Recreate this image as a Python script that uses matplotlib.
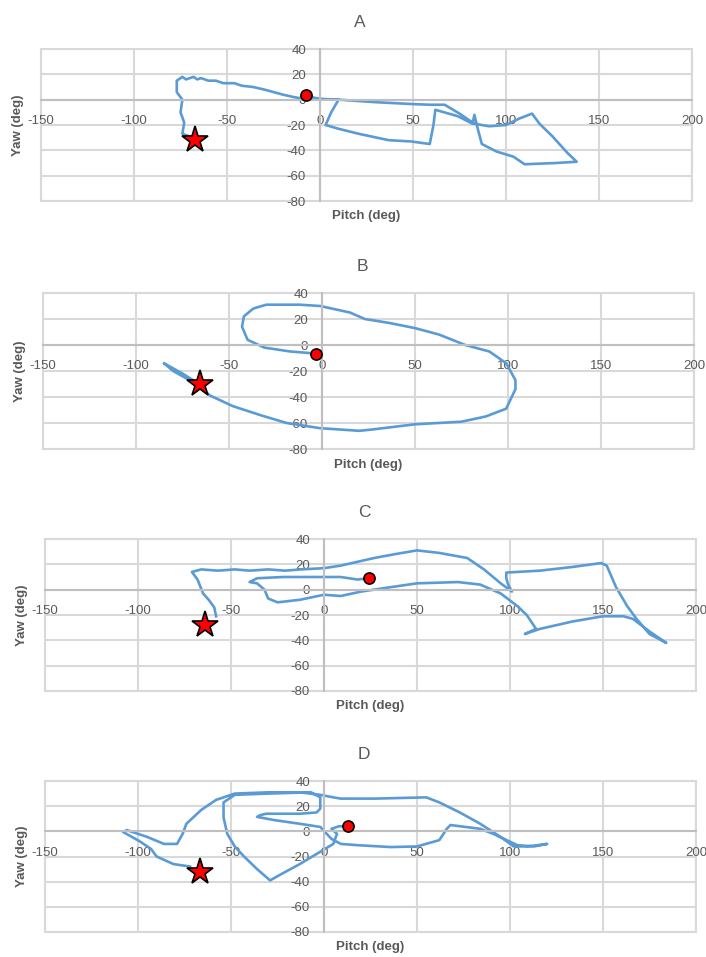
import matplotlib.pyplot as plt
from matplotlib.patches import Rectangle

plt.rcParams['font.family'] = ['Liberation Sans', 'DejaVu Sans']
plt.rcParams['axes.unicode_minus'] = False

# -----------------
# Data
# -----------------

pitch_a = [-68, -74, -73, -75, -74, -77, -77, -74, -72, -68, -66, -64, -60, -56, -52, -46, -42, -36,
           -30, -25, -20, -14, -8, 0, 5, 10, 30, 50, 59, 67, 75, 83, 91, 100, 107, 114, 118, 125, 133,
           138, 127, 110, 104, 95, 87, 85, 83, 82, 74, 62, 61, 59, 49, 37, 21, 10, 3, 6, 10, 0, -6]
yaw_a = [-30, -27, -18, -10, 0, 6, 15, 18, 16, 18, 16, 17, 15, 15, 13, 13, 11, 10,
         8, 6, 4, 2, 0.5, 0.5, 0.3, 0, -2, -3.5, -4, -4, -11, -19, -21, -20, -15, -11, -19, -29, -42,
         -49, -50, -51, -45, -41, -35, -24, -12, -19, -13, -8, -20, -35, -33, -32, -27, -23, -20, -10, 0, 0.5, 2.5]
start_a = (-67, -32)
end_a = (-7.5, 4)

pitch_b = [-66, -75, -85, -80, -70, -60, -48, -33, -19, -1, 20, 27, 50, 75, 88, 99, 104, 104,
           99, 90, 77, 63, 50, 36, 23, 15, -1, -12, -30, -37, -42, -43, -40, -31, -17, -4]
yaw_b = [-30, -22, -14, -20, -28, -39, -47, -54, -60, -64, -66, -65, -61, -59, -55, -49, -34, -27,
         -14, -5, 0, 8, 13, 17, 20, 25, 30, 31, 31, 28, 22, 14, 4, -2, -5, -6.5]
start_b = (-65.5, -30)
end_b = (-3, -6.7)

pitch_c = [-58, -59, -62, -65, -68, -71, -66, -57, -48, -40, -30, -21, -12, 0, 9, 18, 27, 38, 50,
           62, 77, 86, 95, 101, 99, 98, 98, 116, 134, 149, 152, 157, 163, 168, 175, 184,
           175, 166, 161, 150, 134, 116, 108, 114, 109, 104, 95, 84, 72, 50, 36, 20, 9, 0,
           -13, -25, -30, -32, -36, -40, -36, -22, -4, 9, 18, 24]
yaw_c = [-21, -14, -8, -3, 8, 14, 16, 15, 16, 15, 16, 15, 16, 17, 19, 22, 25, 28, 31,
         29, 25, 16, 5, -1.5, 4, 9, 13.5, 15, 18, 21, 19, 2, -13, -23, -35, -42,
         -33, -23, -21, -21, -25, -31, -35, -31, -20, -13, -3, 4, 6, 5, 2, -1.5, -5, -4,
         -8, -10, -7, 0, 5, 6, 9, 10, 10, 10, 8, 9]
start_c = (-64, -28)
end_c = (24, 9)

pitch_d = [-72, -81, -90, -93, -99, -108, -106, -95, -86, -79, -76, -74, -66, -58, -48, -30, -13, -2,
           5, 9, 27, 55, 62, 73, 84, 95, 102, 109, 115, 120, 113, 104, 91, 84, 68, 66, 62, 50, 36,
           18, 9, 4, -2, -13, -27, -36, -34, -31, -13, -4, -2, -2, -7, -30, -48, -54, -54, -52, -48,
           -43, -36, -29, -23, -13, -4, 5, 7, 4, 8, 13]
yaw_d = [-28, -26, -20, -14, -8, -0.5, 1, -4.5, -10, -10, -2, 6, 17, 25, 30, 31, 31, 29,
         27, 26, 26, 27, 23, 15, 6, -4.5, -12, -12, -11, -10, -12, -11, -2, 2, 5, 2, -7, -12, -12.5,
         -11, -10, -6, 3.5, 6, 9, 11.5, 13, 14, 14, 15, 18, 27, 31, 30, 29, 23, 11, -2, -12,
         -20, -30, -39, -34, -26, -18, -10, -2, 2, 4, 4]
start_d = (-66.5, -32.5)
end_d = (13, 4)

panels = ['A', 'B', 'C', 'D']
pitch = [pitch_a, pitch_b, pitch_c, pitch_d]
yaw = [yaw_a, yaw_b, yaw_c, yaw_d]
starts = [start_a, start_b, start_c, start_d]
ends = [end_a, end_b, end_c, end_d]

x_ticks = list(range(-150, 201, 50))
y_ticks = list(range(-80, 41, 20))

# -----------------
# Figure layout (pixel boxes of each plot area)
# -----------------

W, H = 706, 957
boxes = [(41, 49, 692, 201), (43, 293, 694, 449), (45, 539, 696, 691), (45, 781, 696, 932)]

fig = plt.figure(figsize=(W / 100, H / 100), dpi=100)
text_color = '#595959'
grid_color = '#d9d9d9'

for i, name in enumerate(panels):
    l, t, r, b = boxes[i]
    ax = fig.add_axes([l / W, 1 - b / H, (r - l) / W, (b - t) / H])
    ax.set_xlim(-150, 200)
    ax.set_ylim(-80, 40)
    ax.set_xticks(x_ticks)
    ax.set_yticks(y_ticks)
    ax.grid(True, color=grid_color, lw=1.5, zorder=0)
    ax.set_axisbelow(True)

    # Excel-style axes crossing at zero
    for side in ['top', 'right']:
        ax.spines[side].set_visible(False)
    for side in ['left', 'bottom']:
        ax.spines[side].set_position(('data', 0))
        ax.spines[side].set_color('#bfbfbf')
        ax.spines[side].set_linewidth(1.5)
    ax.add_patch(Rectangle((0, 0), 1, 1, transform=ax.transAxes, fill=False,
                           ec=grid_color, lw=1.5, clip_on=False, zorder=0))
    ax.tick_params(axis='x', length=0, pad=11, labelsize=9.5, labelcolor=text_color)
    ax.tick_params(axis='y', length=0, pad=10, labelsize=9.5, labelcolor=text_color)

    ax.plot(pitch[i], yaw[i], color='#5b9bd5', lw=1.9, zorder=2)
    ax.plot(*starts[i], marker='*', ms=20, mfc='red', mec='black', mew=1.2, zorder=3)
    ax.plot(*ends[i], marker='o', ms=8, mfc='red', mec='black', mew=1.2, zorder=3)

    ax.set_title(name, fontsize=12.5, color=text_color, pad=16, x=0.49)
    ax.text(0.5, -0.1, 'Pitch (deg)', transform=ax.transAxes, ha='center', va='center',
            fontsize=9.5, fontweight='bold', color=text_color)
    ax.text(-0.035, 0.5, 'Yaw (deg)', transform=ax.transAxes, ha='center', va='center',
            rotation=90, fontsize=9.5, fontweight='bold', color=text_color)

plt.savefig('out.png', dpi=100)
